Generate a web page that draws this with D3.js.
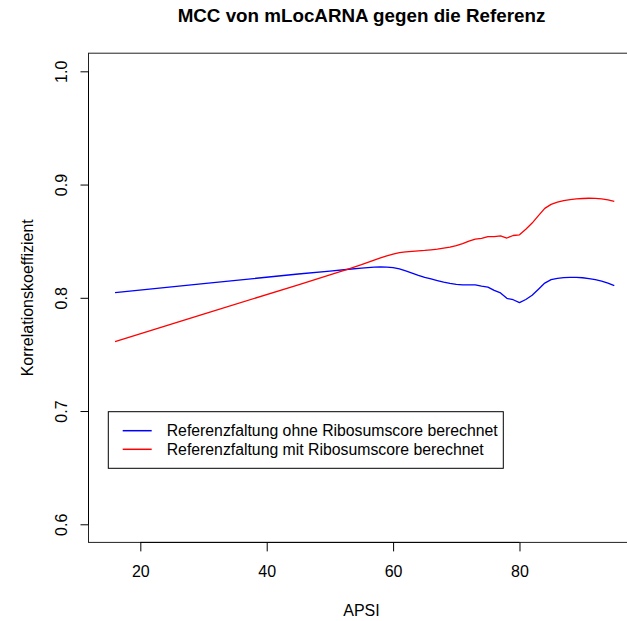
<!DOCTYPE html>
<html>
<head>
<meta charset="utf-8">
<script src="https://cdn.jsdelivr.net/npm/d3@7"></script>
<style>
  html, body { margin: 0; padding: 0; background: #fff; }
  svg { display: block; font-family: "Liberation Sans", Arial, Helvetica, sans-serif; }
</style>
</head>
<body>
<svg id="chart" width="627" height="621"></svg>
<script>
// APSI values and smoothed MCC for both reference foldings
const apsi = [16, 30, 45, 50, 53, 55, 57, 58, 59, 60, 61, 62, 63, 64, 65, 66, 67, 68, 69, 70,
              71, 72, 73, 74, 75, 76, 77, 78, 79, 80, 81, 82, 83, 84, 85, 86, 87, 88, 89, 90,
              91, 92, 93, 94, 95];

const mccOhne = [0.8045, 0.8125, 0.8210, 0.8236, 0.8252, 0.8262, 0.8270, 0.8272, 0.8270, 0.8266,
                 0.8255, 0.8237, 0.8218, 0.8198, 0.8180, 0.8167, 0.8152, 0.8138, 0.8127, 0.8119,
                 0.8115, 0.8114, 0.8114, 0.8103, 0.8094, 0.8065, 0.8043, 0.7995, 0.7983, 0.7958,
                 0.7985, 0.8022, 0.8075, 0.8130, 0.8160, 0.8172, 0.8178, 0.8180, 0.8180, 0.8177,
                 0.8170, 0.8160, 0.8148, 0.8130, 0.8107];

const mccMit = [0.7612, 0.7855, 0.8115, 0.8202, 0.8255, 0.8292, 0.8333, 0.8352, 0.8370, 0.8385,
                0.8398, 0.8405, 0.8410, 0.8414, 0.8418, 0.8424, 0.8430, 0.8438, 0.8447, 0.8460,
                0.8478, 0.8500, 0.8518, 0.8525, 0.8540, 0.8540, 0.8546, 0.8528, 0.8550, 0.8556,
                0.8605, 0.8660, 0.8725, 0.8790, 0.8825, 0.8845, 0.8858, 0.8867, 0.8873, 0.8877,
                0.8879, 0.8878, 0.8873, 0.8865, 0.8852];

const xTicks = [20, 40, 60, 80];
const yTicks = [0.6, 0.7, 0.8, 0.9, 1.0];

const seriesNames = ["Referenzfaltung ohne Ribosumscore berechnet",
                     "Referenzfaltung mit Ribosumscore berechnet"];
const seriesColors = ["#0000ff", "#ff0000"];

const titleText = "MCC von mLocARNA gegen die Referenz";
const xLabel = "APSI";
const yLabel = "Korrelationskoeffizient";

// axis limits padded by 4% like base graphics
const xLim = [15, 95], yLim = [0.6, 1.0];
const pad = (l) => { const d = (l[1] - l[0]) * 0.04; return [l[0] - d, l[1] + d]; };

const plot = { left: 88.5, right: 634.5, top: 53.2, bottom: 542.4 };

const svg = d3.select("#chart");

const x = d3.scaleLinear().domain(pad(xLim)).range([plot.left, plot.right]);
const y = d3.scaleLinear().domain(pad(yLim)).range([plot.bottom, plot.top]);

// plot frame
svg.append("rect")
  .attr("x", plot.left).attr("y", plot.top)
  .attr("width", plot.right - plot.left).attr("height", plot.bottom - plot.top)
  .attr("fill", "none").attr("stroke", "#222").attr("stroke-width", 1);

// x axis
const gx = svg.append("g")
  .attr("transform", `translate(0,${plot.bottom})`)
  .call(d3.axisBottom(x).tickValues(xTicks).tickFormat(d3.format("d"))
        .tickSize(9).tickPadding(14).tickSizeOuter(0));
gx.select(".domain").remove();
gx.append("line")
  .attr("x1", x(xTicks[0])).attr("x2", x(xTicks[xTicks.length - 1]))
  .attr("stroke", "#000");
gx.selectAll(".tick line").attr("stroke", "#000");
gx.selectAll(".tick text")
  .attr("font-size", 16).attr("fill", "#000")
  .attr("font-family", "Liberation Sans, Arial, sans-serif");

// y axis with labels parallel to the axis
const gy = svg.append("g")
  .attr("transform", `translate(${plot.left},0)`)
  .call(d3.axisLeft(y).tickValues(yTicks).tickFormat(d3.format(".1f"))
        .tickSize(8).tickSizeOuter(0));
gy.select(".domain").remove();
gy.append("line")
  .attr("y1", y(yTicks[0])).attr("y2", y(yTicks[yTicks.length - 1]))
  .attr("stroke", "#000");
gy.selectAll(".tick line").attr("stroke", "#000");
gy.selectAll(".tick text")
  .attr("x", null).attr("dy", null)
  .attr("text-anchor", "middle")
  .attr("transform", "translate(-21.5,0) rotate(-90)")
  .attr("font-size", 16).attr("fill", "#000")
  .attr("font-family", "Liberation Sans, Arial, sans-serif");

// curves
const line = d3.line().x(d => x(d[0])).y(d => y(d[1]));
[mccOhne, mccMit].forEach((vals, i) => {
  svg.append("path")
    .datum(apsi.map((a, j) => [a, vals[j]]))
    .attr("fill", "none")
    .attr("stroke", seriesColors[i])
    .attr("stroke-width", 1.3)
    .attr("stroke-linejoin", "round")
    .attr("d", line);
});

// title and axis labels
const midX = (plot.left + plot.right) / 2;
svg.append("text")
  .attr("x", midX).attr("y", 22)
  .attr("text-anchor", "middle")
  .attr("font-size", 18.8).attr("font-weight", "bold")
  .text(titleText);

svg.append("text")
  .attr("x", midX).attr("y", 616)
  .attr("text-anchor", "middle")
  .attr("font-size", 16)
  .text(xLabel);

svg.append("text")
  .attr("transform", `translate(33,${(plot.top + plot.bottom) / 2}) rotate(-90)`)
  .attr("text-anchor", "middle")
  .attr("font-size", 16)
  .text(yLabel);

// legend
const leg = svg.append("g");
leg.append("rect")
  .attr("x", 108.3).attr("y", 411.7)
  .attr("width", 395).attr("height", 56.6)
  .attr("fill", "#fff").attr("stroke", "#000").attr("stroke-width", 1);
seriesNames.forEach((name, i) => {
  const ly = 430.7 + i * 18.6;
  leg.append("line")
    .attr("x1", 122.7).attr("x2", 151.7)
    .attr("y1", ly).attr("y2", ly)
    .attr("stroke", seriesColors[i]).attr("stroke-width", 1.5);
  leg.append("text")
    .attr("x", 166.7).attr("y", ly)
    .attr("dy", "0.35em")
    .attr("font-size", 15.8)
    .text(name);
});
</script>
</body>
</html>
